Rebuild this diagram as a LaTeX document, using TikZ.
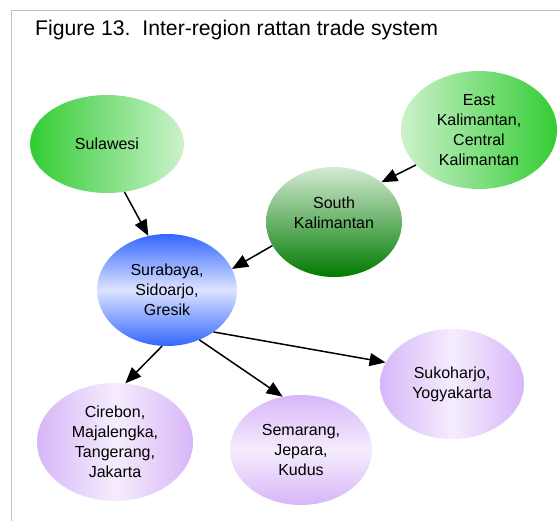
\documentclass[tikz,border=0pt]{standalone}
\usepackage{fontspec}
\setmainfont{Liberation Sans}
\usetikzlibrary{shapes.geometric,arrows.meta}
\definecolor{leafgreen}{HTML}{33CC33}
\definecolor{palegreen}{HTML}{CCF2CC}
\definecolor{southtop}{HTML}{D4EAD4}
\definecolor{darkgreen}{HTML}{007A00}
\definecolor{cityblue}{HTML}{3366FF}
\definecolor{paleblue}{HTML}{DDE4FF}
\definecolor{lilac}{HTML}{D7B6F8}
\definecolor{palelilac}{HTML}{F5EDFD}
\definecolor{framegray}{HTML}{C0C0C0}
\begin{document}
\begin{tikzpicture}[x=1pt,y=-1pt,
  region/.style={ellipse,inner sep=0pt,align=center,font=\fontsize{16}{20}\selectfont},
  trade/.style={-{Triangle[length=16pt,width=13pt]},line width=1.5pt}]
\useasboundingbox (0,0) rectangle (560,521);
\draw[framegray] (11,521) -- (11,10) -- (560,10);
\node[anchor=base west,inner sep=0pt,font=\fontsize{21.2}{25}\selectfont] (title) at (35,36) {Figure 13.\ \ Inter-region rattan trade system};
% source regions
\node[region,minimum width=154pt,minimum height=98pt,left color=leafgreen,right color=palegreen] (sul) at (107,144) {Sulawesi};
\node[region,minimum width=156pt,minimum height=118pt,left color=palegreen,right color=leafgreen] (ekal) at (479,130) {East\\Kalimantan,\\Central\\Kalimantan};
\node[region,minimum width=136pt,minimum height=110pt,top color=southtop,bottom color=darkgreen] (skal) at (334,222) {};
\node[region] (skaltext) at (334,213) {South\\Kalimantan};
% hub
\node[region,minimum width=140pt,minimum height=112pt,top color=cityblue,bottom color=cityblue,middle color=paleblue] (sby) at (167,290) {Surabaya,\\Sidoarjo,\\Gresik};
% destinations
\node[region,minimum width=156pt,minimum height=118pt,left color=lilac,right color=lilac,middle color=palelilac] (crb) at (115,442) {Cirebon,\\Majalengka,\\Tangerang,\\Jakarta};
\node[region,minimum width=142pt,minimum height=110pt,top color=lilac,bottom color=lilac,middle color=palelilac] (smg) at (301,450) {Semarang,\\Jepara,\\Kudus};
\node[region,minimum width=144pt,minimum height=110pt,left color=lilac,right color=lilac,middle color=palelilac] (skh) at (452,384) {Sukoharjo,\\Yogyakarta};
\draw[trade] (sul.-70) -- (sby.109);
\draw[trade] (ekal.209) -- (skal.40);
\draw[trade] (skal.201) -- (sby.18);
\draw[trade] (sby.265) -- (crb.80);
\draw[trade] (sby.-57) -- (smg.109);
\draw[trade] (sby.-42) -- (skh.162);
\end{tikzpicture}
\end{document}
